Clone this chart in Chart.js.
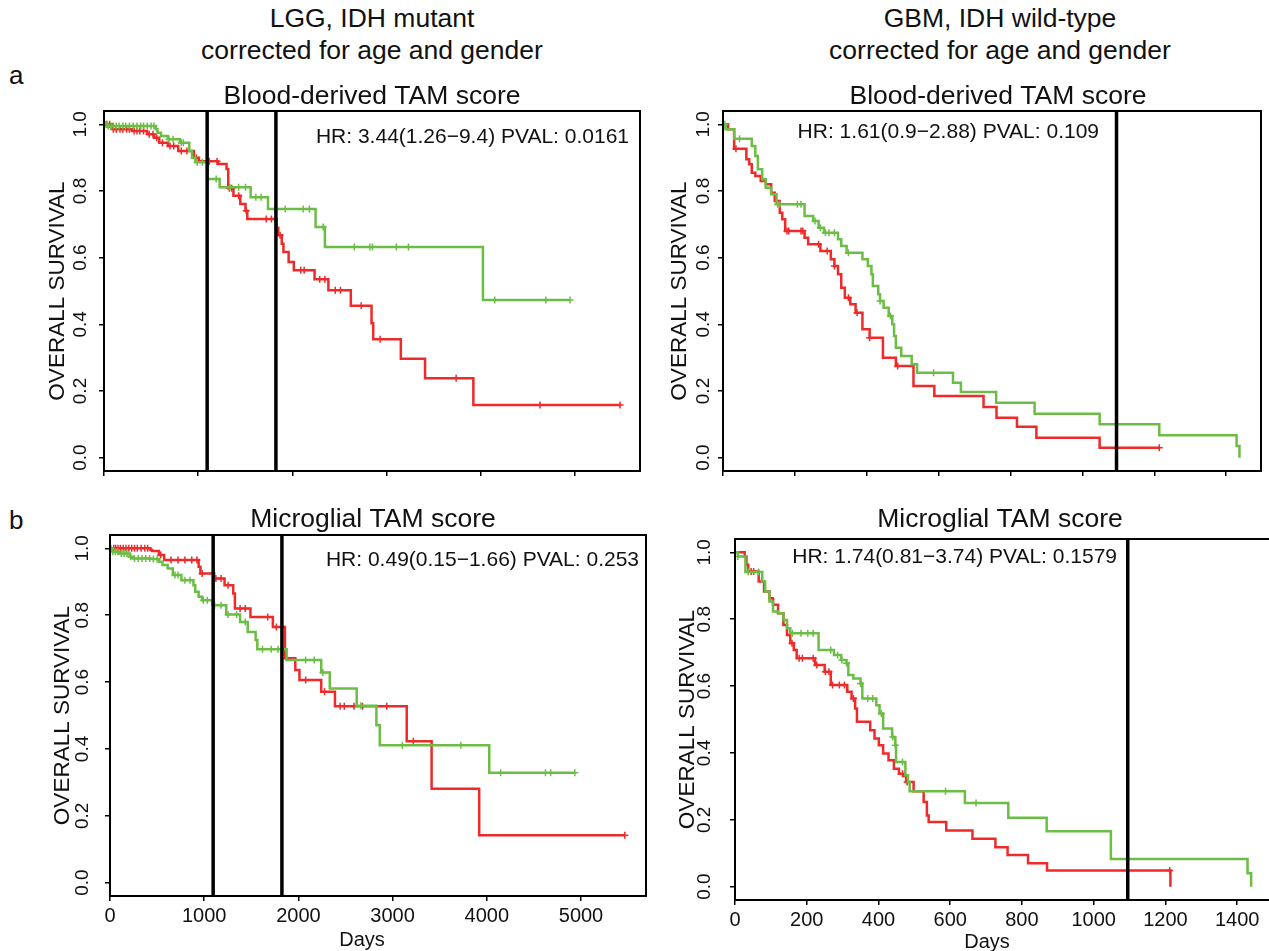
<!DOCTYPE html>
<html>
<head>
<meta charset="utf-8">
<script src="https://cdn.jsdelivr.net/npm/chart.js@4.4.1/dist/chart.umd.min.js"></script>
<style>
    html, body { margin: 0; padding: 0; background: #fff; overflow: hidden; }
    body { position: relative; width: 1269px; height: 951px; font-family: "Liberation Sans", Arial, sans-serif; color: #111; }
    canvas { position: absolute; }
    .hd { position: absolute; transform: translate(-50%, -50%); font-size: 26.5px; white-space: nowrap; }
    .tag { position: absolute; transform: translateY(-50%); font-size: 26px; }
</style>
</head>
<body>
<div class="hd" style="left:372px;top:18px">LGG, IDH mutant</div>
<div class="hd" style="left:372px;top:50px">corrected for age and gender</div>
<div class="hd" style="left:1000px;top:18px">GBM, IDH wild-type</div>
<div class="hd" style="left:1000px;top:50px">corrected for age and gender</div>
<div class="tag" style="left:9px;top:75px">a</div>
<div class="tag" style="left:9px;top:520px">b</div>

<script>
// ---- data (days, survival fraction) ----
const yTicks = [0, 0.2, 0.4, 0.6, 0.8, 1.0];
const lggTicks = [0, 1000, 2000, 3000, 4000, 5000];
const gbmTicks = [0, 200, 400, 600, 800, 1000, 1200, 1400];
const lggCuts = [1095, 1825];
const gbmCuts = [1095];

// a, LGG, blood-derived
const aLggRedT = [0, 92, 300, 458, 531, 586, 678, 788, 953, 1008, 1209, 1301, 1319, 1374, 1447, 1502, 1521, 1832, 1850, 1887, 1905, 1960, 2015, 2235, 2382, 2620, 2840, 2858, 3151, 3408, 3921, 5478];
const aLggRedS = [1, 0.985, 0.98, 0.97, 0.96, 0.945, 0.935, 0.92, 0.90, 0.889, 0.881, 0.866, 0.808, 0.786, 0.761, 0.741, 0.716, 0.69, 0.667, 0.642, 0.617, 0.587, 0.562, 0.535, 0.502, 0.456, 0.403, 0.355, 0.297, 0.238, 0.158, 0.158];
const aLggRedC = [30, 60, 100, 130, 170, 200, 240, 270, 320, 350, 380, 420, 480, 520, 560, 620, 700, 740, 820, 880, 980, 1118, 1200, 1330, 1356, 1430, 1510, 1722, 1777, 1869, 2089, 2125, 2290, 2345, 2455, 2510, 2730, 2931, 3738, 4628, 5478];
const aLggGreenT = [0, 30, 550, 568, 605, 678, 806, 905, 934, 971, 1099, 1228, 1557, 1741, 2246, 2345, 4023, 4947];
const aLggGreenS = [1, 0.995, 0.985, 0.975, 0.965, 0.955, 0.945, 0.92, 0.90, 0.886, 0.836, 0.811, 0.781, 0.746, 0.692, 0.632, 0.473, 0.473];
const aLggGreenC = [20, 45, 75, 100, 130, 160, 200, 230, 270, 310, 350, 390, 420, 460, 500, 530, 690, 733, 820, 842, 989, 1044, 1191, 1337, 1429, 1502, 1612, 1667, 1814, 1924, 2114, 2180, 2327, 2657, 2822, 2850, 3104, 3232, 4148, 4690, 4947];

// a, GBM, blood-derived
const aGbmRedT = [0, 14, 31, 65, 73, 80, 90, 105, 119, 134, 144, 158, 165, 173, 227, 237, 271, 300, 310, 320, 329, 339, 354, 369, 388, 408, 445, 481, 530, 588, 725, 761, 818, 872, 1048, 1214];
const aGbmRedS = [1, 0.985, 0.927, 0.895, 0.88, 0.855, 0.845, 0.83, 0.82, 0.795, 0.77, 0.735, 0.715, 0.68, 0.66, 0.64, 0.62, 0.595, 0.575, 0.55, 0.51, 0.48, 0.46, 0.435, 0.385, 0.36, 0.30, 0.275, 0.215, 0.185, 0.152, 0.12, 0.093, 0.06, 0.03, 0.03];
const aGbmRedC = [36, 178, 183, 217, 222, 266, 290, 310, 349, 373, 408, 486, 1214];
const aGbmGreenT = [0, 7, 31, 80, 90, 97, 109, 119, 134, 149, 227, 251, 266, 281, 320, 329, 344, 388, 403, 413, 417, 432, 437, 447, 461, 471, 476, 481, 496, 525, 540, 640, 662, 760, 867, 1048, 1214, 1429, 1437];
const aGbmGreenS = [1, 0.985, 0.957, 0.935, 0.905, 0.865, 0.835, 0.81, 0.79, 0.76, 0.725, 0.71, 0.69, 0.675, 0.655, 0.635, 0.615, 0.595, 0.575, 0.55, 0.515, 0.49, 0.47, 0.45, 0.425, 0.40, 0.365, 0.33, 0.305, 0.28, 0.255, 0.225, 0.197, 0.165, 0.132, 0.10, 0.067, 0.035, 0];
const aGbmGreenC = [5, 46, 152, 158, 207, 217, 256, 271, 285, 295, 310, 349, 437, 466, 586];

// b, LGG, microglial
const bLggRedT = [0, 429, 447, 520, 575, 941, 960, 1106, 1216, 1308, 1326, 1491, 1729, 1857, 1967, 2011, 2242, 2388, 3150, 3414, 3919, 5465];
const bLggRedS = [1, 0.995, 0.992, 0.98, 0.965, 0.945, 0.925, 0.91, 0.89, 0.865, 0.82, 0.795, 0.765, 0.671, 0.636, 0.606, 0.571, 0.528, 0.423, 0.281, 0.142, 0.142];
const bLggRedC = [40, 60, 85, 110, 140, 170, 200, 230, 260, 290, 330, 370, 400, 538, 648, 722, 795, 868, 923, 978, 1124, 1179, 1253, 1381, 1436, 1674, 1766, 2077, 2278, 2443, 2487, 2590, 2681, 2938, 3220, 5465];
const bLggGreenT = [0, 26, 99, 209, 245, 429, 520, 557, 612, 667, 758, 886, 905, 941, 978, 1088, 1234, 1381, 1462, 1546, 1564, 1875, 2242, 2333, 2619, 2828, 2864, 4026, 4934];
const bLggGreenS = [1, 0.99, 0.985, 0.975, 0.97, 0.968, 0.96, 0.95, 0.94, 0.92, 0.905, 0.89, 0.87, 0.855, 0.845, 0.83, 0.802, 0.78, 0.75, 0.726, 0.698, 0.666, 0.629, 0.581, 0.529, 0.471, 0.411, 0.329, 0.329];
const bLggGreenC = [10, 30, 55, 80, 120, 150, 180, 220, 260, 300, 340, 380, 420, 460, 500, 690, 722, 795, 850, 990, 1033, 1110, 1179, 1253, 1344, 1436, 1619, 1711, 1784, 2077, 2168, 2260, 2663, 3103, 3725, 4147, 4623, 4678, 4934];

// b, GBM, microglial
const bGbmRedT = [0, 27, 32, 37, 66, 81, 96, 106, 120, 135, 145, 154, 164, 172, 223, 250, 267, 313, 325, 335, 340, 377, 389, 401, 413, 428, 443, 457, 472, 477, 498, 526, 535, 540, 589, 662, 726, 760, 817, 870, 1214];
const bGbmRedS = [1, 0.988, 0.963, 0.943, 0.913, 0.883, 0.863, 0.843, 0.818, 0.783, 0.753, 0.728, 0.708, 0.683, 0.663, 0.643, 0.603, 0.583, 0.563, 0.533, 0.493, 0.468, 0.443, 0.423, 0.398, 0.378, 0.353, 0.338, 0.331, 0.313, 0.285, 0.253, 0.213, 0.193, 0.168, 0.143, 0.118, 0.095, 0.07, 0.048, 0];
const bGbmRedC = [45, 52, 159, 179, 188, 218, 228, 252, 262, 272, 291, 305, 330, 467, 480, 1212];
const bGbmGreenT = [0, 8, 29, 76, 84, 96, 106, 120, 135, 145, 154, 233, 276, 296, 311, 316, 330, 350, 355, 394, 403, 413, 438, 447, 449, 475, 482, 487, 641, 762, 869, 1048, 1429, 1439];
const bGbmGreenS = [1, 0.988, 0.941, 0.913, 0.883, 0.853, 0.823, 0.818, 0.798, 0.773, 0.758, 0.708, 0.693, 0.678, 0.668, 0.633, 0.623, 0.608, 0.563, 0.543, 0.518, 0.473, 0.448, 0.423, 0.373, 0.333, 0.313, 0.285, 0.25, 0.206, 0.166, 0.083, 0.04, 0];
const bGbmGreenC = [8, 37, 66, 160, 184, 203, 218, 267, 286, 298, 311, 350, 370, 384, 408, 440, 447, 467, 587, 672];

const RED = '#ee2a2a';
const GREEN = '#6cbd45';
const INK = '#111';
const FONT = '"Liberation Sans", Arial, sans-serif';
const Y_MIN = -0.04, Y_MAX = 1.04;

(() => {
    const stepPoints = (t, s) => t.map((v, i) => ({ x: v, y: s[i] }));

    const survAt = (t, s, day) => {
        let v = s[0];
        for (let i = 0; i < t.length; i++) if (t[i] <= day) v = s[i];
        return v;
    };

    const censorPoints = (t, s, c) => c.map(d => ({ x: d, y: survAt(t, s, d) }));

    // texts, rotated tick labels and the box, drawn on top of the chart
    const decor = {
        id: 'decor',
        afterDraw(chart, args, o) {
            const { ctx, chartArea: ca } = chart;
            const p = o.panel;
            ctx.save();
            ctx.fillStyle = INK;

            ctx.strokeStyle = '#000';
            ctx.lineWidth = 2;
            ctx.strokeRect(ca.left, ca.top, ca.right - ca.left, ca.bottom - ca.top);

            ctx.font = `19px ${FONT}`;
            ctx.textAlign = 'center';
            ctx.textBaseline = 'middle';
            const ys = chart.scales.y;
            ys.ticks.forEach(t => {
                ctx.save();
                ctx.translate(ca.left - p.tickGap, ys.getPixelForValue(t.value));
                ctx.rotate(-Math.PI / 2);
                ctx.fillText(t.value.toFixed(1), 0, 0);
                ctx.restore();
            });

            ctx.save();
            ctx.font = `22.5px ${FONT}`;
            ctx.translate(p.yLabX - p.left, (ca.top + ca.bottom) / 2);
            ctx.rotate(-Math.PI / 2);
            ctx.fillText('OVERALL SURVIVAL', 0, 0);
            ctx.restore();

            ctx.font = `26.5px ${FONT}`;
            ctx.fillText(p.title, p.titleX - p.left, p.titleY - p.top);

            ctx.font = `21px ${FONT}`;
            ctx.textAlign = 'right';
            ctx.fillText(p.hr, p.hrX - p.left, p.hrY - p.top);

            if (p.daysX) {
                ctx.textAlign = 'center';
                ctx.font = `20px ${FONT}`;
                ctx.fillText('Days', p.daysX - p.left, p.daysY - p.top);
            }
            ctx.restore();
        }
    };

    const makePanel = (p) => {
        const canvas = document.createElement('canvas');
        canvas.width = p.w;
        canvas.height = p.h;
        canvas.style.left = p.left + 'px';
        canvas.style.top = p.top + 'px';
        document.body.appendChild(canvas);

        const datasets = [];
        p.cuts.forEach(c => {
            datasets.push({ data: [{ x: c, y: Y_MIN }, { x: c, y: Y_MAX }], showLine: true, borderColor: '#000', borderWidth: 3.5, pointRadius: 0, order: 0 });
        });
        [[p.green, GREEN, 1], [p.red, RED, 2]].forEach(([d, col, ord]) => {
            datasets.push({ data: stepPoints(d[0], d[1]), showLine: true, stepped: true, borderColor: col, borderWidth: 2.5, pointRadius: 0, order: ord });
            datasets.push({ data: censorPoints(d[0], d[1], d[2]), showLine: false, pointStyle: 'cross', pointRadius: 3.5, pointBorderWidth: 1.5, borderColor: col, backgroundColor: col, order: ord });
        });

        new Chart(canvas, {
            type: 'scatter',
            data: { datasets },
            options: {
                responsive: false,
                animation: false,
                events: [],
                layout: { padding: { top: 40, right: p.padR, left: 0, bottom: 0 } },
                plugins: { legend: { display: false }, tooltip: { enabled: false }, decor: { panel: p } },
                scales: {
                    x: {
                        type: 'linear', min: 0, max: p.xMax,
                        afterBuildTicks: s => { s.ticks = p.xTicks.map(v => ({ value: v })); },
                        afterFit: s => { s.height = p.xH; },
                        grid: { drawOnChartArea: false, drawTicks: true, tickLength: 5, color: '#000', lineWidth: 1.5 },
                        border: { display: false },
                        ticks: {
                            display: p.showX, maxRotation: 0, autoSkip: false, padding: 3, color: INK,
                            font: { family: FONT, size: 20 },
                            callback: v => String(v)
                        }
                    },
                    y: {
                        type: 'linear', min: Y_MIN, max: Y_MAX,
                        afterBuildTicks: s => { s.ticks = yTicks.map(v => ({ value: v })); },
                        afterFit: s => { s.width = p.yW; },
                        grid: { drawOnChartArea: false, drawTicks: true, tickLength: 5, color: '#000', lineWidth: 1.5 },
                        border: { display: false },
                        ticks: { display: false }
                    }
                }
            },
            plugins: [decor]
        });
    };

    makePanel({
        left: 0, top: 71, w: 650, h: 430, padR: 10, yW: 104, xH: 30, xMax: 5690, xTicks: lggTicks, showX: false,
        cuts: lggCuts, red: [aLggRedT, aLggRedS, aLggRedC], green: [aLggGreenT, aLggGreenS, aLggGreenC],
        title: 'Blood-derived TAM score', titleX: 372, titleY: 97,
        hr: 'HR: 3.44(1.26\u22129.4) PVAL: 0.0161', hrX: 629, hrY: 137, yLabX: 58, tickGap: 23
    });
    makePanel({
        left: 640, top: 71, w: 629, h: 430, padR: 8, yW: 83, xH: 30, xMax: 1497, xTicks: gbmTicks, showX: false,
        cuts: gbmCuts, red: [aGbmRedT, aGbmRedS, aGbmRedC], green: [aGbmGreenT, aGbmGreenS, aGbmGreenC],
        title: 'Blood-derived TAM score', titleX: 998, titleY: 97,
        hr: 'HR: 1.61(0.9\u22122.88) PVAL: 0.109', hrX: 1099, hrY: 132, yLabX: 680, tickGap: 19
    });
    makePanel({
        left: 0, top: 495, w: 656, h: 456, padR: 10, yW: 110, xH: 55, xMax: 5690, xTicks: lggTicks, showX: true,
        cuts: lggCuts, red: [bLggRedT, bLggRedS, bLggRedC], green: [bLggGreenT, bLggGreenS, bLggGreenC],
        title: 'Microglial TAM score', titleX: 373, titleY: 520,
        hr: 'HR: 0.49(0.15\u22121.66) PVAL: 0.253', hrX: 639, hrY: 560, yLabX: 63, tickGap: 27,
        daysX: 362, daysY: 940
    });
    makePanel({
        left: 650, top: 499, w: 630, h: 452, padR: 7, yW: 85, xH: 51, xMax: 1500, xTicks: gbmTicks, showX: true,
        cuts: gbmCuts, red: [bGbmRedT, bGbmRedS, bGbmRedC], green: [bGbmGreenT, bGbmGreenS, bGbmGreenC],
        title: 'Microglial TAM score', titleX: 1000, titleY: 520,
        hr: 'HR: 1.74(0.81\u22123.74) PVAL: 0.1579', hrX: 1117, hrY: 557, yLabX: 688, tickGap: 30,
        daysX: 987, daysY: 942
    });
})();
</script>
</body>
</html>
